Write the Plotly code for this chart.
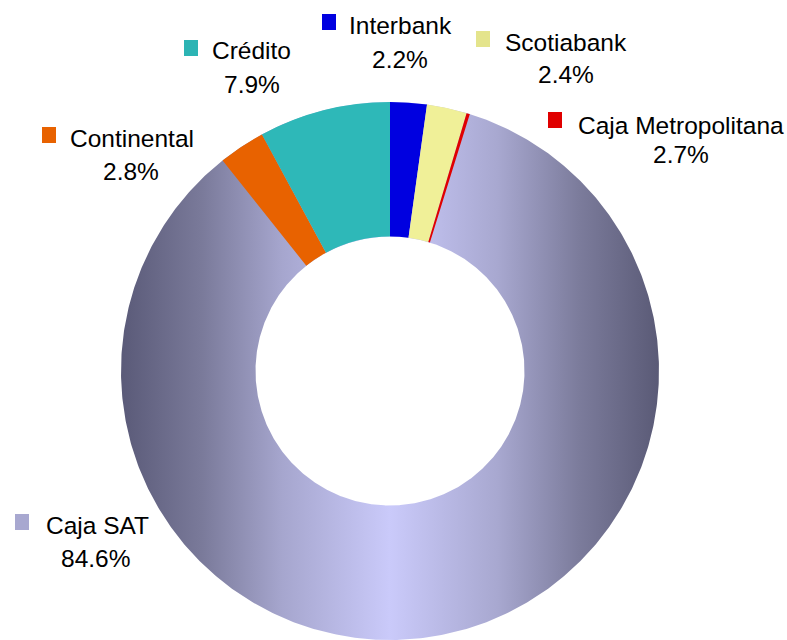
import numpy as np
import plotly.graph_objects as go

# ---------------- data ----------------
categories = ["Interbank", "Scotiabank", "Caja Metropolitana", "Caja SAT", "Continental", "Crédito"]
shares = [2.2, 2.4, 0.2, 84.6, 2.8, 7.9]          # slice sizes as drawn in the picture
pct_labels = ["2.2%", "2.4%", "2.7%", "84.6%", "2.8%", "7.9%"]  # printed labels

# ---------------- styles / layout ----------------
W, H = 787, 640
CX, CY, R = 390, 371, 269
HOLE = 0.5
FS = 24.5
FONT = "Liberation Sans Narrow, Arial Narrow, Liberation Sans, Arial, sans-serif"

slice_colors = ["#0000E0", "#F0F098", "#E00000", "rgba(0,0,0,0)", "#E86200", "#2EB8B8"]
key_colors = ["#0000E0", "#E4E48C", "#E00000", "#A8A8D0", "#E86200", "#2CB4B4"]

# label placement (pixels): name centre x, name baseline, pct centre x, pct baseline, key centre x, key centre y
label_pos = [
    (400, 34, 400, 68, 329, 22),
    (566, 51, 566, 83, 483, 39),
    (681, 134, 681, 163, 555, 120),
    (97, 534, 95, 567, 22, 522),
    (132, 147, 131, 180, 49, 135),
    (251, 59, 252, 93, 191, 48),
]

fig = go.Figure()

# shaded backdrop for the dominant ring slice (horizontal gradient)
t = np.linspace(np.pi / 2, np.pi / 2 + 2 * np.pi, 721)
xo = CX + R * np.cos(t)
yo = CY - R * np.sin(t)
xi = CX + R * HOLE * np.cos(t[::-1])
yi = CY - R * HOLE * np.sin(t[::-1])
fig.add_trace(go.Scatter(
    x=np.concatenate([xo, xi, xo[:1]]), y=np.concatenate([yo, yi, yo[:1]]),
    mode="lines", line=dict(width=0), fill="toself",
    fillgradient=dict(type="horizontal", colorscale=[
        [0.0, "#5A5A78"], [0.15, "#7A7A9A"], [0.3, "#A6A6CE"], [0.5, "#CACAFA"],
        [0.7, "#A8A8D0"], [0.85, "#7C7C9C"], [1.0, "#5A5A76"]]),
    hoverinfo="skip", showlegend=False))

fig.add_trace(go.Pie(
    labels=categories, values=shares, sort=False, direction="clockwise", rotation=0,
    hole=HOLE, textinfo="none", hoverinfo="label",
    marker=dict(colors=slice_colors, line=dict(width=0)),
    domain=dict(x=[(CX - R) / W, (CX + R) / W], y=[(H - CY - R) / H, (H - CY + R) / H]),
    showlegend=False))

ASC = 0.905 * FS
for name, pct, col, (nx, nb, px, pb, kx, ky) in zip(categories, pct_labels, key_colors, label_pos):
    fig.add_annotation(x=nx, y=nb - ASC, text=name, xanchor="center", yanchor="top",
                       showarrow=False, borderpad=0, borderwidth=0,
                       font=dict(family=FONT, size=FS, color="black"))
    fig.add_annotation(x=px, y=pb - ASC, text=pct, xanchor="center", yanchor="top",
                       showarrow=False, borderpad=0, borderwidth=0,
                       font=dict(family=FONT, size=FS, color="black"))
    fig.add_annotation(x=kx, y=ky, text=" ", width=14, height=16, bgcolor=col,
                       xanchor="center", yanchor="middle", showarrow=False,
                       borderpad=0, borderwidth=0, font=dict(size=4))

fig.update_layout(
    width=W, height=H, autosize=False,
    margin=dict(l=0, r=0, t=0, b=0),
    paper_bgcolor="white", plot_bgcolor="rgba(0,0,0,0)",
    xaxis=dict(range=[0, W], visible=False, fixedrange=True),
    yaxis=dict(range=[H, 0], visible=False, fixedrange=True),
)

fig.write_html("out.html", config={"displayModeBar": False},
               post_script="document.body.style.margin='0';document.body.style.overflow='hidden';")
